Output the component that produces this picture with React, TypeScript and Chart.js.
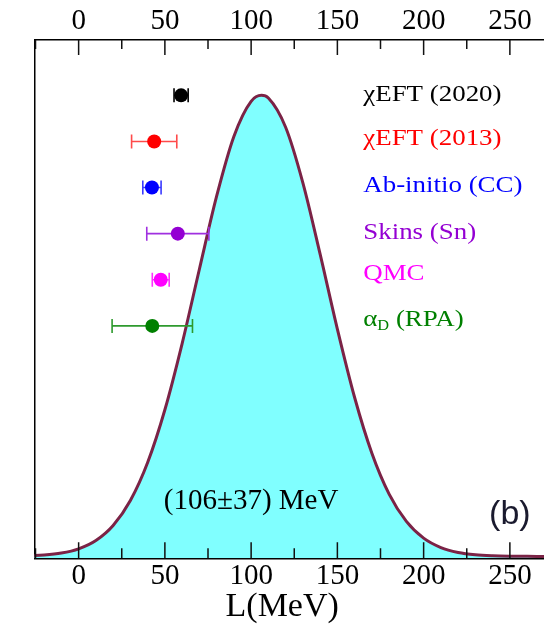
import React, { useEffect, useRef } from 'react';
import { Chart, registerables } from 'chart.js';

Chart.register(...registerables);

// Distribution of L (MeV) (relative height)
const L_VALUES = [-30, -20, -10, 0, 10, 20, 30, 40, 50, 60, 70, 80, 90, 100, 106, 110, 120, 130, 140, 150, 160, 170, 180, 190, 200, 210, 220, 230, 240, 250, 260, 270, 280, 290];
const DENSITY = [0.0012, 0.003, 0.0073, 0.0165, 0.0345, 0.0671, 0.1213, 0.2037, 0.3181, 0.4617, 0.6229, 0.7812, 0.9107, 0.9869, 1.0, 0.9942, 0.9309, 0.8103, 0.6556, 0.4931, 0.3447, 0.224, 0.1353, 0.076, 0.0397, 0.0193, 0.0087, 0.0036, 0.0014, 0.0005, 0.0002, 0.0001, 0, 0];

// Constraints (error bars)
const METHODS = ['χEFT (2020)', 'χEFT (2013)', 'Ab-initio (CC)', 'Skins (Sn)', 'QMC', 'α_D (RPA)'];
const L_CENTRAL = [59.4, 43.8, 42.5, 57.5, 47.6, 42.7];
const L_ERROR = [4.1, 13.1, 5.3, 18.0, 4.9, 23.3];
const ROW_Y = [1.0, 0.9, 0.8, 0.7, 0.6, 0.5];
const LABEL_Y = [1.0, 0.906, 0.804, 0.702, 0.613, 0.512];
const COLORS = ['#000000', '#ff0000', '#0000ff', '#9400d3', '#ff00ff', '#008000'];
const BAR_COLORS = ['#000000', '#ff4a4a', '#3a3aff', '#a030e0', '#ff30ff', '#2e9a2e'];

const X_TICKS = [-25, 0, 25, 50, 75, 100, 125, 150, 175, 200, 225, 250, 275];
const X_MIN = -25.7;
const X_MAX = 275;
const Y_MIN = -0.004;
const Y_MAX = 1.12;

const LABEL_L = 165;
const RESULT_TEXT = '(106±37) MeV';
const RESULT_POS = { x: 100, y: 0.119 };
const PANEL_TEXT = '(b)';
const PANEL_POS = { x: 250, y: 0.09 };
const AXIS_TITLE = 'L(MeV)';
const AXIS_TITLE_X = 118;

const SERIF = '"Liberation Serif", "Times New Roman", serif';

const tickPlugin = {
  id: 'inwardTicks',
  afterDraw(chart: any) {
    const { ctx, chartArea } = chart;
    const xs = chart.scales.x;
    ctx.save();
    ctx.strokeStyle = '#111';
    ctx.lineWidth = 1.5;
    X_TICKS.forEach((v) => {
      if (v < X_MIN || v > X_MAX) return;
      const px = xs.getPixelForValue(v);
      const major = v % 50 === 0;
      ctx.beginPath();
      ctx.moveTo(px, chartArea.top);
      ctx.lineTo(px, chartArea.top + (major ? 15 : 9));
      ctx.moveTo(px, chartArea.bottom);
      ctx.lineTo(px, chartArea.bottom - (major ? 16 : 10));
      ctx.stroke();
    });
    ctx.restore();
  },
};

const errorBarPlugin = {
  id: 'errorBars',
  afterDatasetDraw(chart: any, args: any) {
    if (args.index !== 0) return;
    const { ctx } = chart;
    const xs = chart.scales.x;
    const ys = chart.scales.y;
    ctx.save();
    ctx.lineWidth = 1.6;
    L_CENTRAL.forEach((c, i) => {
      const y = ys.getPixelForValue(ROW_Y[i]);
      const x1 = xs.getPixelForValue(c - L_ERROR[i]);
      const x2 = xs.getPixelForValue(c + L_ERROR[i]);
      ctx.strokeStyle = BAR_COLORS[i];
      ctx.beginPath();
      ctx.moveTo(x1, y);
      ctx.lineTo(x2, y);
      ctx.moveTo(x1, y - 7);
      ctx.lineTo(x1, y + 7);
      ctx.moveTo(x2, y - 7);
      ctx.lineTo(x2, y + 7);
      ctx.stroke();
    });
    ctx.restore();
  },
};

const textPlugin = {
  id: 'texts',
  afterDatasetsDraw(chart: any) {
    const { ctx } = chart;
    const xs = chart.scales.x;
    const ys = chart.scales.y;
    ctx.save();
    ctx.textBaseline = 'middle';
    ctx.textAlign = 'left';
    const lx = xs.getPixelForValue(LABEL_L);
    METHODS.forEach((m, i) => {
      const y = ys.getPixelForValue(LABEL_Y[i]);
      ctx.save();
      ctx.translate(lx, y);
      ctx.scale(1.17, 1);
      ctx.fillStyle = COLORS[i];
      const idx = m.indexOf('_');
      if (idx >= 0) {
        const main = m.slice(0, idx);
        const sub = m.slice(idx + 1, idx + 2);
        const rest = m.slice(idx + 2);
        ctx.font = `23px ${SERIF}`;
        ctx.fillText(main, 0, 0);
        let x = ctx.measureText(main).width;
        ctx.font = `14px ${SERIF}`;
        ctx.fillText(sub, x, 6);
        x += ctx.measureText(sub).width;
        ctx.font = `23px ${SERIF}`;
        ctx.fillText(rest, x, 0);
      } else {
        ctx.font = `23px ${SERIF}`;
        ctx.fillText(m, 0, 0);
      }
      ctx.restore();
    });

    ctx.fillStyle = '#000';
    ctx.textAlign = 'center';
    ctx.font = `29px ${SERIF}`;
    ctx.fillText(RESULT_TEXT, xs.getPixelForValue(RESULT_POS.x), ys.getPixelForValue(RESULT_POS.y));

    ctx.fillStyle = '#1a1a2e';
    ctx.font = '34px "Liberation Sans", Arial, sans-serif';
    ctx.fillText(PANEL_TEXT, xs.getPixelForValue(PANEL_POS.x), ys.getPixelForValue(PANEL_POS.y));

    ctx.fillStyle = '#000';
    ctx.font = `34px ${SERIF}`;
    ctx.fillText(AXIS_TITLE, xs.getPixelForValue(AXIS_TITLE_X), chart.height - 18);
    ctx.restore();
  },
};

export default function App() {
  const ref = useRef<HTMLCanvasElement | null>(null);

  useEffect(() => {
    if (!ref.current) return;
    const tickFont = { family: SERIF, size: 29, lineHeight: 1.2 };
    const labelCb = (v: any) => (Number(v) >= 0 && Number(v) % 50 === 0 ? String(v) : '');
    const setTicks = (scale: any) => {
      scale.ticks = X_TICKS.filter((v) => v >= X_MIN && v <= X_MAX).map((v) => ({ value: v }));
    };
    const chart = new Chart(ref.current, {
      type: 'line',
      data: {
        datasets: [
          {
            type: 'line',
            data: L_VALUES.map((x, i) => ({ x, y: DENSITY[i] })),
            borderColor: '#7b2346',
            borderWidth: 3,
            backgroundColor: '#80ffff',
            fill: 'start',
            pointRadius: 0,
            cubicInterpolationMode: 'monotone',
            order: 2,
          } as any,
          {
            type: 'scatter',
            data: L_CENTRAL.map((x, i) => ({ x, y: ROW_Y[i] })),
            pointRadius: 7,
            pointBackgroundColor: COLORS,
            pointBorderColor: COLORS,
            pointBorderWidth: 0,
            order: 1,
          } as any,
        ],
      },
      options: {
        responsive: false,
        animation: false,
        devicePixelRatio: 1,
        layout: { padding: { left: 0, right: 2.5, top: 0, bottom: 0 } },
        plugins: { legend: { display: false }, tooltip: { enabled: false } },
        scales: {
          x: {
            type: 'linear',
            position: 'bottom',
            min: X_MIN,
            max: X_MAX,
            afterBuildTicks: setTicks,
            afterFit: (s: any) => { s.height = 66.7; },
            grid: { display: false, drawTicks: false },
            border: { display: true, color: '#000', width: 1.5 },
            ticks: { font: tickFont, color: '#000', padding: 1, maxRotation: 0, autoSkip: false, callback: labelCb },
          },
          x2: {
            type: 'linear',
            position: 'top',
            min: X_MIN,
            max: X_MAX,
            afterBuildTicks: setTicks,
            afterFit: (s: any) => { s.height = 40; },
            grid: { display: false, drawTicks: false },
            border: { display: true, color: '#000', width: 1.5 },
            ticks: { font: tickFont, color: '#000', padding: 1, maxRotation: 0, autoSkip: false, callback: labelCb },
          },
          y: {
            type: 'linear',
            min: Y_MIN,
            max: Y_MAX,
            afterFit: (s: any) => { s.width = 34.3; },
            grid: { display: false, drawTicks: false },
            border: { display: true, color: '#000', width: 1.5 },
            ticks: { display: false },
          },
        },
      } as any,
      plugins: [errorBarPlugin, textPlugin, tickPlugin],
    });
    return () => chart.destroy();
  }, []);

  return (
    <div style={{ position: 'fixed', left: 0, top: 0, width: 544, height: 625, overflow: 'hidden', background: '#fff' }}>
      <canvas ref={ref} width={560} height={625} style={{ display: 'block', width: 560, height: 625 }} />
    </div>
  );
}
